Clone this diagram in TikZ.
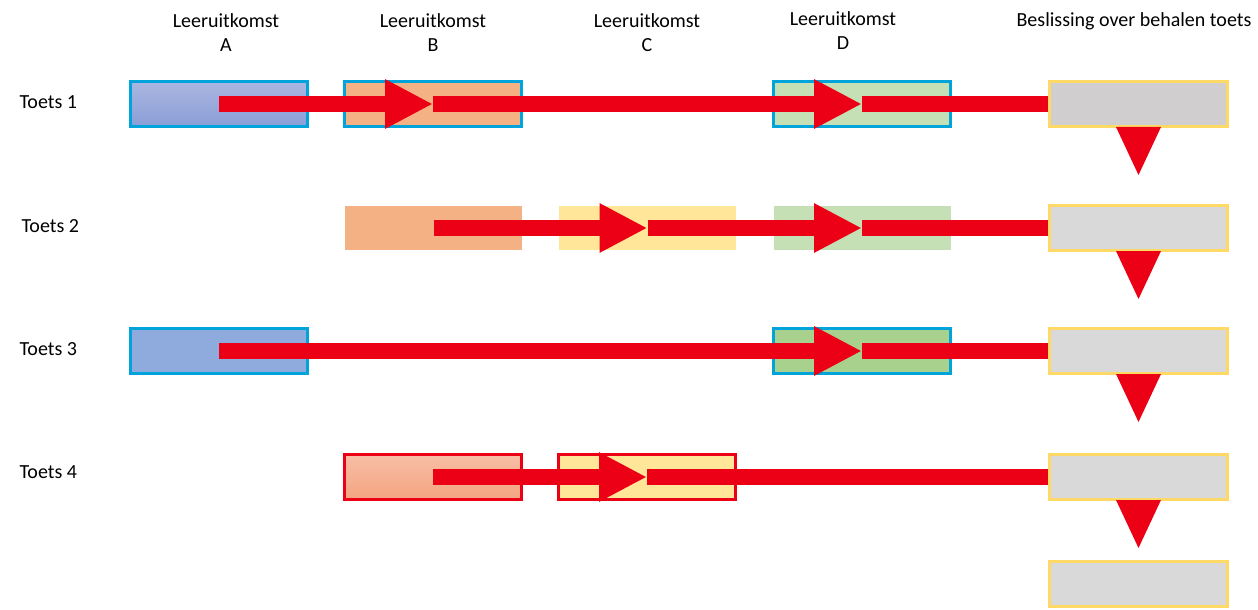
\documentclass[tikz,border=0pt]{standalone}
\usepackage{fontspec}
\setmainfont{Carlito}
\usetikzlibrary{arrows.meta,calc}

\definecolor{rand}{HTML}{00A3DA}
\definecolor{goud}{HTML}{FFD966}
\definecolor{rood}{HTML}{EC0016}
\definecolor{blauwtop}{HTML}{AAB6E0}
\definecolor{blauwbodem}{HTML}{8A9ED7}
\definecolor{blauw}{HTML}{8FAADC}
\definecolor{oranje}{HTML}{F4B183}
\definecolor{oranjetop}{HTML}{F8BEA5}
\definecolor{oranjebodem}{HTML}{F4A481}
\definecolor{geel}{HTML}{FFE699}
\definecolor{groen}{HTML}{C5E0B4}
\definecolor{groendonker}{HTML}{A9D18E}
\definecolor{grijsdonker}{HTML}{D0CECE}
\definecolor{grijs}{HTML}{D9D9D9}

\tikzset{every picture/.style={line width=0.75pt}}
\tikzset{
  uitkomst/.style={minimum width=132.75pt, minimum height=33.75pt, inner sep=0pt, line width=2.25pt, draw=rand},
  los/.style={minimum width=132.75pt, minimum height=33pt, inner sep=0pt},
  besluit/.style={minimum width=134pt, minimum height=33.75pt, inner sep=0pt, line width=2.25pt, draw=goud, fill=grijs},
  pijl/.style={draw=rood, line width=12pt, -{Triangle[length=36pt,width=34.5pt]}},
  lijn/.style={draw=rood, line width=12pt},
  tekst/.style={font=\fontsize{15}{18}\selectfont, inner sep=0.75pt, align=center}
}

\begin{document}
\begin{tikzpicture}[x=0.75pt,y=0.75pt,yscale=-1,xscale=1]
\useasboundingbox (0,0) rectangle (1258,610);

% Text Node
\draw (226,33) node [tekst] (kopA) {Leeruitkomst\\A};
% Text Node
\draw (433,33) node [tekst] (kopB) {Leeruitkomst\\B};
% Text Node
\draw (647,33) node [tekst] (kopC) {Leeruitkomst\\C};
% Text Node
\draw (843,31) node [tekst] (kopD) {Leeruitkomst\\D};
% Text Node
\draw (1134,21) node [tekst] (kopF) {Beslissing over behalen toets};

% Text Node
\draw (18,102) node [tekst, anchor=west] (t1) {Toets 1};
% Text Node
\draw (20,226) node [tekst, anchor=west] (t2) {Toets 2};
% Text Node
\draw (18,349) node [tekst, anchor=west] (t3) {Toets 3};
% Text Node
\draw (18,472) node [tekst, anchor=west] (t4) {Toets 4};

%Shape: Rectangle row 1
\draw (219,104) node [uitkomst, top color=blauwtop, bottom color=blauwbodem] (a1) {};
\draw (433,104) node [uitkomst, fill=oranje] (b1) {};
\draw (862,104) node [uitkomst, fill=groen] (d1) {};
\draw (1138.5,104) node [besluit, fill=grijsdonker] (f1) {};
%Shape: Rectangle row 2
\draw (433.5,228) node [los, fill=oranje] (b2) {};
\draw (647.5,228) node [los, fill=geel] (c2) {};
\draw (862,228) node [los, fill=groen] (d2) {};
\draw (1138.5,228) node [besluit] (f2) {};
%Shape: Rectangle row 3
\draw (219,351) node [uitkomst, fill=blauw] (a3) {};
\draw (862,351) node [uitkomst, fill=groendonker] (d3) {};
\draw (1138.5,351) node [besluit] (f3) {};
%Shape: Rectangle row 4
\draw (433,477) node [uitkomst, draw=rood, top color=oranjetop, bottom color=oranjebodem] (b4) {};
\draw (647,477) node [uitkomst, draw=rood, fill=geel] (c4) {};
\draw (1138.5,477) node [besluit] (f4) {};
\draw (1138.5,584) node [besluit] (f5) {};

%Straight Lines [arrows]
\draw [pijl] (a1.center) -- (b1.center);
\draw [pijl] (b1.center) -- (d1.center);
\draw [lijn] (d1.center) -- (f1.west);
\draw [pijl] (b2.center) -- (c2.center);
\draw [pijl] (c2.center) -- (d2.center);
\draw [lijn] (d2.center) -- (f2.west);
\draw [pijl] (a3.center) -- (d3.center);
\draw [lijn] (d3.center) -- (f3.west);
\draw [pijl] (b4.center) -- (c4.center);
\draw [lijn] (c4.center) -- (f4.west);

%Shape: Triangle
\foreach \boven in {f1,f2,f3,f4}
  \fill [rood] ($(\boven.south)+(-22.5,-1)$) -- ($(\boven.south)+(22.5,-1)$) -- ($(\boven.south)+(0,47)$) -- cycle;
\end{tikzpicture}
\end{document}
